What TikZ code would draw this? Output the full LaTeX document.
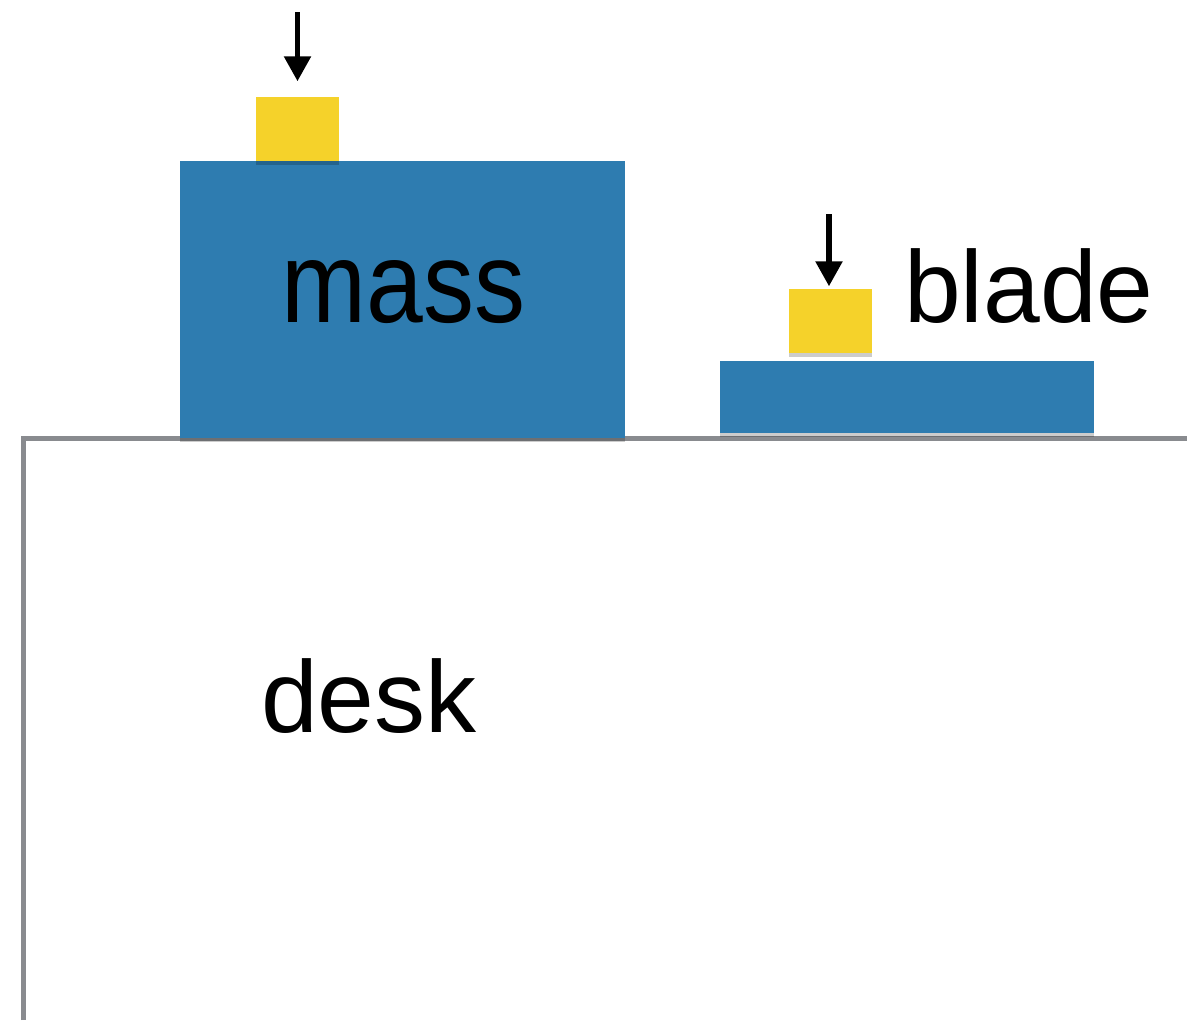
\documentclass[tikz,border=0pt]{standalone}
\usepackage{fontspec}
\usepackage{graphicx}
\setmainfont{Liberation Sans}
\usetikzlibrary{arrows.meta,shadows}

\definecolor{blockblue}{RGB}{46,124,176}
\definecolor{weightyellow}{RGB}{245,210,42}
\definecolor{deskgray}{RGB}{137,139,143}

\tikzset{
  softshadow/.style={drop shadow={shadow xshift=0pt,shadow yshift=-1.2pt,opacity=0.2,fill=black}},
  block/.style={rectangle,fill=blockblue,draw=none,inner sep=0pt,softshadow},
  weight/.style={rectangle,fill=weightyellow,draw=none,inner sep=0pt,
    minimum width=0.83cm,minimum height=0.64cm,softshadow},
  deskline/.style={draw=deskgray,line width=0.045cm},
  push/.style={draw=black,line width=0.055cm,-{Triangle[length=0.25cm,width=0.26cm]}},
  lbl/.style={inner sep=0pt,anchor=base,font=\fontsize{29}{34}\selectfont}
}

\begin{document}
\begin{tikzpicture}[x=0.01cm,y=-0.01cm]
  \useasboundingbox (0,0) rectangle (1187,1020);

  % desk outline
  \coordinate (deskbottom) at (23.5,1020);
  \coordinate (deskcorner) at (23.5,438.5);
  \coordinate (deskright) at (1187,438.5);
  \draw[deskline] (deskbottom) -- (deskcorner) -- (deskright);

  % mass block with its weight
  \node[block,minimum width=4.44cm,minimum height=2.77cm] (mass) at (402.5,299.5) {};
  \node[weight] (w1) at (297.5,129) {};
  \node[lbl] (masslbl) at (403.5,322) {\scalebox{1}[1.13]{mass}};

  % blade with its weight
  \node[block,minimum width=3.74cm,minimum height=0.72cm] (blade) at (907,397) {};
  \node[weight] (w2) at (830.5,321) {};
  \node[lbl] (bladelbl) at (1029,322) {blade};

  % desk label
  \node[lbl] (desklbl) at (369,732) {desk};

  % pushing forces
  \coordinate (f1) at (297.5,12);
  \coordinate (f2) at (829,214);
  \draw[push,shorten >=0.15cm] (f1) -- (f1 |- w1.north);
  \draw[push,shorten >=0.02cm] (f2) -- (f2 |- w2.north);
\end{tikzpicture}
\end{document}
